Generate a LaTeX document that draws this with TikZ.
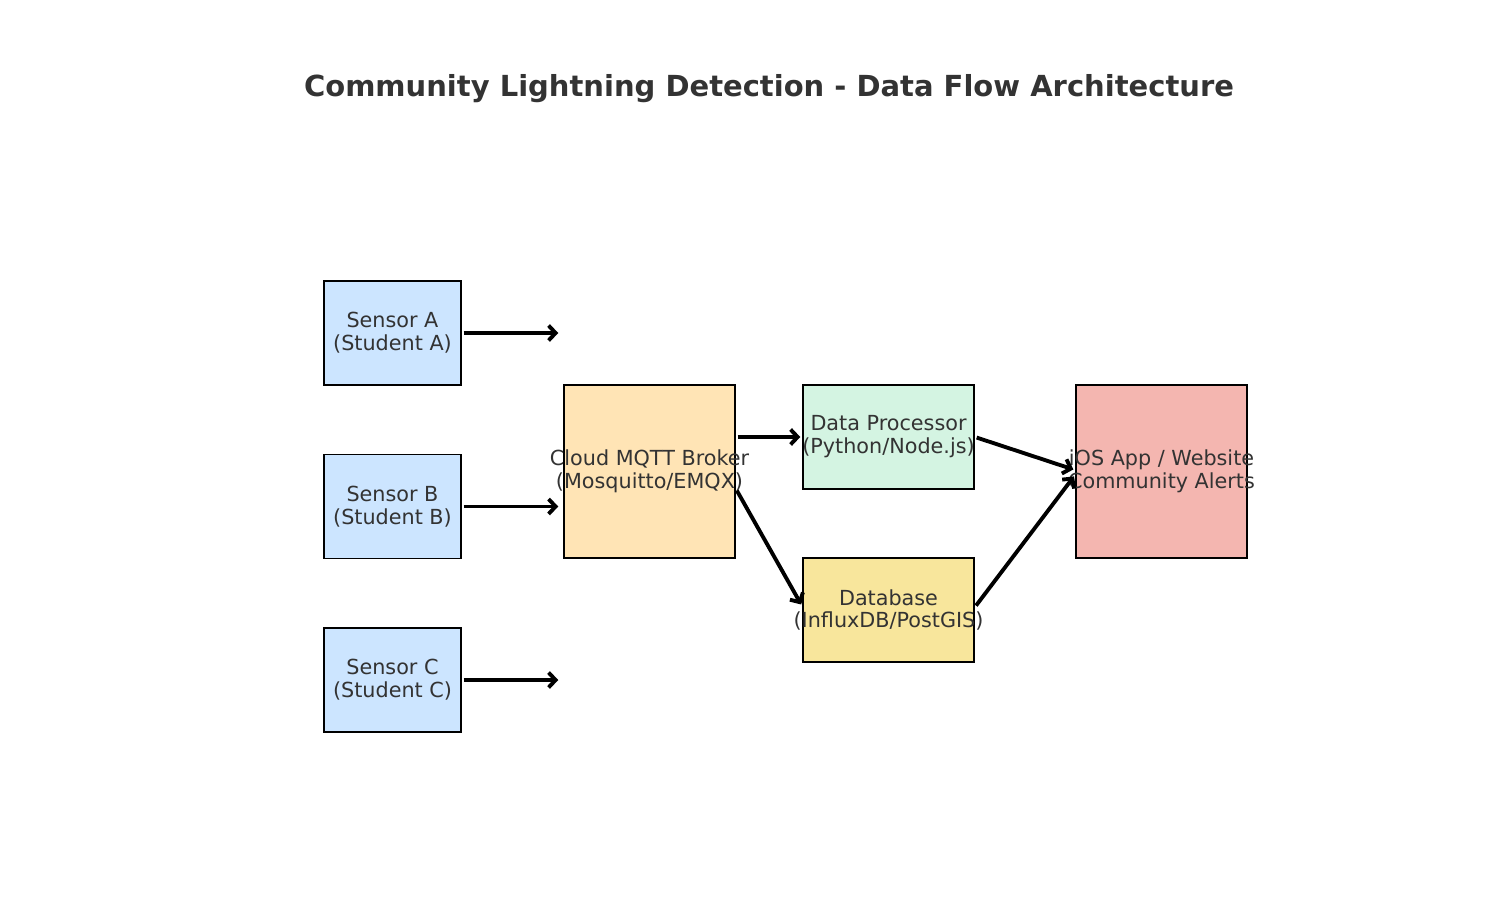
\documentclass[tikz,border=0pt]{standalone}
\usepackage{fontspec}
\setmainfont{DejaVu Sans}
\usetikzlibrary{arrows.meta}

\definecolor{sensorblue}{HTML}{CCE5FF}
\definecolor{brokerorange}{HTML}{FFE4B5}
\definecolor{procgreen}{HTML}{D4F4E2}
\definecolor{dbyellow}{HTML}{F8E69C}
\definecolor{appred}{HTML}{F4B6B0}
\definecolor{txtgray}{HTML}{333333}

\newcommand{\boxlines}[2]{\makebox[0pt]{#1}\\\makebox[0pt]{#2}}

\tikzset{
	box/.style={draw=black, line width=1.1pt, text=txtgray, align=center, inner sep=0pt, font=\fontsize{11.8}{13}\selectfont},
	sensorbox/.style={box, fill=sensorblue, minimum width=2.74cm, minimum height=2.08cm},
	widebox/.style={box, minimum width=3.42cm, minimum height=2.08cm},
	tallbox/.style={box, minimum width=3.42cm, minimum height=3.46cm},
	flow/.style={-{Straight Barb[length=4pt,width=8.5pt]}, line width=2.2pt, shorten >=1pt, shorten <=1pt}
}

\begin{document}
\begin{tikzpicture}
			\useasboundingbox (0,0) rectangle (30,18);
			\begin{scope}
				\node[text=txtgray, font=\fontsize{16.5}{20}\selectfont\bfseries] (title) at (15.38,16.22) {Community Lightning Detection - Data Flow Architecture};

				\node[sensorbox] (sa) at (7.85,11.34) {\boxlines{Sensor A}{(Student A)}};
				\node[sensorbox] (sb) at (7.85,7.87) {\boxlines{Sensor B}{(Student B)}};
				\node[sensorbox] (sc) at (7.85,4.40) {\boxlines{Sensor C}{(Student C)}};

				\node[tallbox, fill=brokerorange] (broker) at (12.99,8.57) {\boxlines{Cloud MQTT Broker}{(Mosquitto/EMQX)}};
				\node[widebox, fill=procgreen] (proc) at (17.77,9.26) {\boxlines{Data Processor}{(Python/Node.js)}};
				\node[widebox, fill=dbyellow] (db) at (17.77,5.80) {\boxlines{Database}{(InfluxDB/PostGIS)}};
				\node[tallbox, fill=appred] (app) at (23.23,8.57) {\boxlines{iOS App / Website}{Community Alerts}};

				\coordinate (ina) at (11.2,11.34);
				\coordinate (inb) at (11.2,7.87);
				\coordinate (inc) at (11.2,4.40);

				\draw[flow] (sa.east) -- (ina); % sensor A
				\draw[flow] (sb.east) -- (inb); % sensor B
				\draw[flow] (sc.east) -- (inc); % sensor C

				\draw[flow] (broker.east |- proc.west) -- (proc.west); % broker to processor
				\draw[flow] ([yshift=-0.35cm]broker.east) -- ([yshift=0.08cm]db.west); % broker to database
				\draw[flow] (proc.east) -- ([yshift=0.03cm]app.west); % processor to app
				\draw[flow] ([yshift=0.06cm]db.east) -- ([yshift=-0.07cm]app.west); % database to app
			\end{scope}
		\end{tikzpicture}
\end{document}
